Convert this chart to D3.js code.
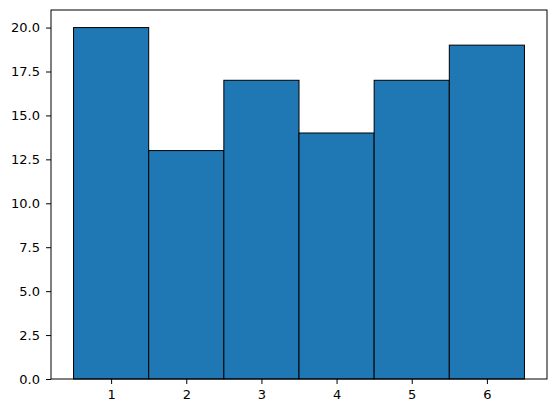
<!DOCTYPE html>
<html>
<head>
<meta charset="utf-8">
<script src="https://cdn.jsdelivr.net/npm/d3@7"></script>
<style>
  body { margin: 0; background: #fff; }
  svg text { font-family: 'DejaVu Sans', sans-serif; font-size: 13px; fill: #000; }
</style>
</head>
<body>
<svg class="hist" width="556" height="413"></svg>
<script>
// dice faces and how often each came up
const faces = [1, 2, 3, 4, 5, 6]
const counts = [20, 13, 17, 14, 17, 19]
const yTicks = [0, 2.5, 5, 7.5, 10, 12.5, 15, 17.5, 20]

const svg = d3.select('.hist'),
  margin = { top: 10, right: 9, bottom: 34, left: 51 },
  width = 556 - margin.left - margin.right,
  height = 413 - margin.top - margin.bottom

// bins run from 0.5 to 6.5, plus matplotlib's 5% margin
const x = d3.scaleLinear().domain([0.2, 6.8]).range([0, width])
const y = d3.scaleLinear().domain([0, 21]).range([height, 0])

const g = svg.append('g')
  .attr('transform', 'translate(' + margin.left + ',' + margin.top + ')')

const data = faces.map((f, i) => ({ face: f, count: counts[i] }))

g.selectAll('.bar')
  .data(data)
  .enter().append('rect')
  .attr('class', 'bar')
  .attr('x', d => x(d.face - 0.5))
  .attr('y', d => y(d.count))
  .attr('width', d => x(d.face + 0.5) - x(d.face - 0.5))
  .attr('height', d => height - y(d.count))
  .attr('fill', '#1f77b4')
  .attr('stroke', '#000')
  .attr('stroke-width', 1)

const xAxis = g.append('g')
  .attr('transform', 'translate(0,' + height + ')')
  .call(d3.axisBottom(x).tickValues(faces).tickSize(5).tickPadding(6).tickFormat(d3.format('d')))

const yAxis = g.append('g')
  .call(d3.axisLeft(y).tickValues(yTicks).tickSize(5).tickPadding(6).tickFormat(d3.format('.1f')))

;[xAxis, yAxis].forEach(a => {
  a.select('.domain').remove()
  a.selectAll('text').style('font-size', '13px').attr('fill', '#000')
  a.selectAll('line').attr('stroke', '#000').attr('stroke-width', 1)
})

// axes frame
g.append('rect')
  .attr('x', 0)
  .attr('y', 0)
  .attr('width', width)
  .attr('height', height)
  .attr('fill', 'none')
  .attr('stroke', '#000')
  .attr('stroke-width', 1)
</script>
</body>
</html>
